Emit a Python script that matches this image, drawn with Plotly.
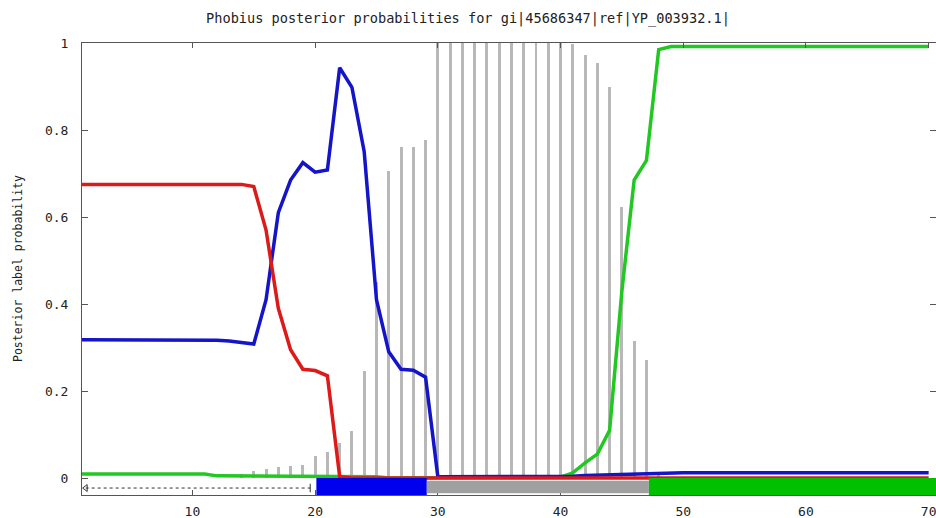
import plotly.graph_objects as go

# ---- data ----
positions = list(range(1, 71))

signal_prob = [0.675, 0.675, 0.675, 0.675, 0.675, 0.675, 0.675, 0.675, 0.675, 0.675,
               0.675, 0.675, 0.675, 0.675, 0.670, 0.570, 0.390, 0.295, 0.250, 0.247,
               0.235, 0.003, 0.0, 0.0, 0.0, 0.0, 0.0, 0.0, 0.0, 0.0,
               0.0, 0.0, 0.0, 0.0, 0.0, 0.0, 0.0, 0.0, 0.0, 0.0,
               0.0, 0.0, 0.0, 0.0, 0.0, 0.0, 0.0, 0.0, 0.0, 0.0,
               0.0, 0.0, 0.0, 0.0, 0.0, 0.0, 0.0, 0.0, 0.0, 0.0,
               0.0, 0.0, 0.0, 0.0, 0.0, 0.0, 0.0, 0.0, 0.0, 0.0]

noncyto_prob = [0.318, 0.318, 0.318, 0.318, 0.318, 0.318, 0.318, 0.318, 0.318, 0.318,
                0.318, 0.317, 0.315, 0.312, 0.308, 0.410, 0.610, 0.685, 0.725, 0.703,
                0.708, 0.943, 0.898, 0.750, 0.410, 0.290, 0.250, 0.248, 0.232, 0.003,
                0.003, 0.003, 0.003, 0.003, 0.003, 0.003, 0.003, 0.003, 0.003, 0.003,
                0.004, 0.006, 0.007, 0.008, 0.009, 0.010, 0.011, 0.012, 0.012, 0.012,
                0.012, 0.012, 0.012, 0.012, 0.012, 0.012, 0.012, 0.012, 0.012, 0.012,
                0.012, 0.012, 0.012, 0.012, 0.012, 0.012, 0.012, 0.012, 0.012, 0.012]

cyto_prob = [0.009, 0.009, 0.009, 0.009, 0.009, 0.009, 0.009, 0.009, 0.009, 0.009,
             0.009, 0.005, 0.005, 0.005, 0.005, 0.005, 0.005, 0.005, 0.005, 0.005,
             0.005, 0.005, 0.005, 0.005, 0.003, 0.0, 0.0, 0.0, 0.0, 0.0,
             0.0, 0.0, 0.0, 0.0, 0.0, 0.0, 0.0, 0.0, 0.0, 0.002,
             0.012, 0.035, 0.055, 0.110, 0.430, 0.685, 0.730, 0.985, 0.992, 0.992,
             0.992, 0.992, 0.992, 0.992, 0.992, 0.992, 0.992, 0.992, 0.992, 0.992,
             0.992, 0.992, 0.992, 0.992, 0.992, 0.992, 0.992, 0.992, 0.992, 0.992]

tm_positions = [14, 15, 16, 17, 18, 19, 20, 21, 22, 23, 24, 25, 26, 27, 28, 29, 30, 31,
                32, 33, 34, 35, 36, 37, 38, 39, 40, 41, 42, 43, 44, 45, 46, 47, 48]
tm_prob = [0.009, 0.016, 0.020, 0.026, 0.028, 0.031, 0.051, 0.060, 0.080, 0.107,
           0.247, 0.450, 0.706, 0.760, 0.762, 0.776, 1.0, 1.0, 1.0, 1.0,
           1.0, 1.0, 1.0, 1.0, 1.0, 1.0, 1.0, 0.998, 0.972, 0.955,
           0.898, 0.623, 0.314, 0.272, 0.015]

# predicted topology track (bottom)
topo_start = [20.1, 29.1, 47.2]
topo_end = [29.1, 47.2, 70.6]
topo_color = ["#0000ee", "#a0a0a0", "#00c000"]
topo_top = [0.0, -0.006, 0.0]
topo_bottom = [-0.039, -0.035, -0.039]
signal_start, signal_end = 1.3, 19.6

x_ticks = [10, 20, 30, 40, 50, 60, 70]
y_ticks = [0, 0.2, 0.4, 0.6, 0.8, 1]
y_ticktext = ["0", "0.2", "0.4", "0.6", "0.8", "1"]

title_text = "Phobius posterior probabilities for gi|45686347|ref|YP_003932.1|"
y_title = "Posterior label probability"

FONT = "DejaVu Sans Mono"
TXT = "#222222"
AXC = "#555555"

fig = go.Figure()

fig.add_trace(go.Bar(x=tm_positions, y=tm_prob, width=0.24,
                     marker=dict(color="#b8b8b8", line=dict(width=0)),
                     showlegend=False, hoverinfo="skip"))

for s, e, c, t, b in zip(topo_start, topo_end, topo_color, topo_top, topo_bottom):
    fig.add_shape(type="rect", x0=s, x1=e, y0=b, y1=t, xref="x", yref="y",
                  fillcolor=c, line=dict(width=0), layer="above")

fig.add_trace(go.Scatter(x=[signal_start, signal_end], y=[-0.023, -0.023], mode="lines+markers",
                         line=dict(color="#333333", width=1, dash="dot"),
                         marker=dict(symbol=["triangle-left-open", "line-ns-open"], size=6,
                                     color="#333333", line=dict(width=1, color="#333333")),
                         showlegend=False, hoverinfo="skip"))

fig.add_trace(go.Scatter(x=positions, y=cyto_prob, mode="lines",
                         line=dict(color="#22c822", width=3.5), showlegend=False))
fig.add_trace(go.Scatter(x=positions, y=noncyto_prob, mode="lines",
                         line=dict(color="#1414c8", width=3.5), showlegend=False))
fig.add_trace(go.Scatter(x=positions, y=signal_prob, mode="lines",
                         line=dict(color="#dd1a1a", width=3.5), showlegend=False))

fig.update_layout(
    width=936, height=518,
    margin=dict(l=82, r=0, t=43, b=23),
    paper_bgcolor="white", plot_bgcolor="white",
    bargap=0,
    title=dict(text=title_text, x=0.5, xref="container", xanchor="center",
               y=1 - 18 / 518, yref="container", yanchor="middle",
               font=dict(family=FONT, size=13.6, color=TXT)),
    font=dict(family=FONT, color=TXT),
    xaxis=dict(range=[1, 70.6], tickvals=x_ticks, ticks="inside", ticklen=5,
               tickcolor=AXC, showline=True, linecolor=AXC, linewidth=1,
               mirror="ticks", showgrid=False, zeroline=False,
               tickfont=dict(family=FONT, size=13, color=TXT),
               ticklabelstandoff=4, ticklabeloverflow="allow", automargin=False),
    yaxis=dict(range=[-0.039, 1.0], tickvals=y_ticks, ticktext=y_ticktext,
               ticks="inside", ticklen=6, tickcolor=AXC, showline=True,
               linecolor=AXC, linewidth=1, mirror="ticks", showgrid=False,
               zeroline=False, tickfont=dict(family=FONT, size=13, color=TXT),
               ticklabelstandoff=10, ticklabeloverflow="allow", automargin=False),
    annotations=[dict(text=y_title, textangle=-90, xref="paper", yref="paper",
                      x=-(82 - 18) / 854, y=0.5, xanchor="center", yanchor="middle",
                      showarrow=False, font=dict(family=FONT, size=11.5, color=TXT))],
)

fig.write_html("out.html")
